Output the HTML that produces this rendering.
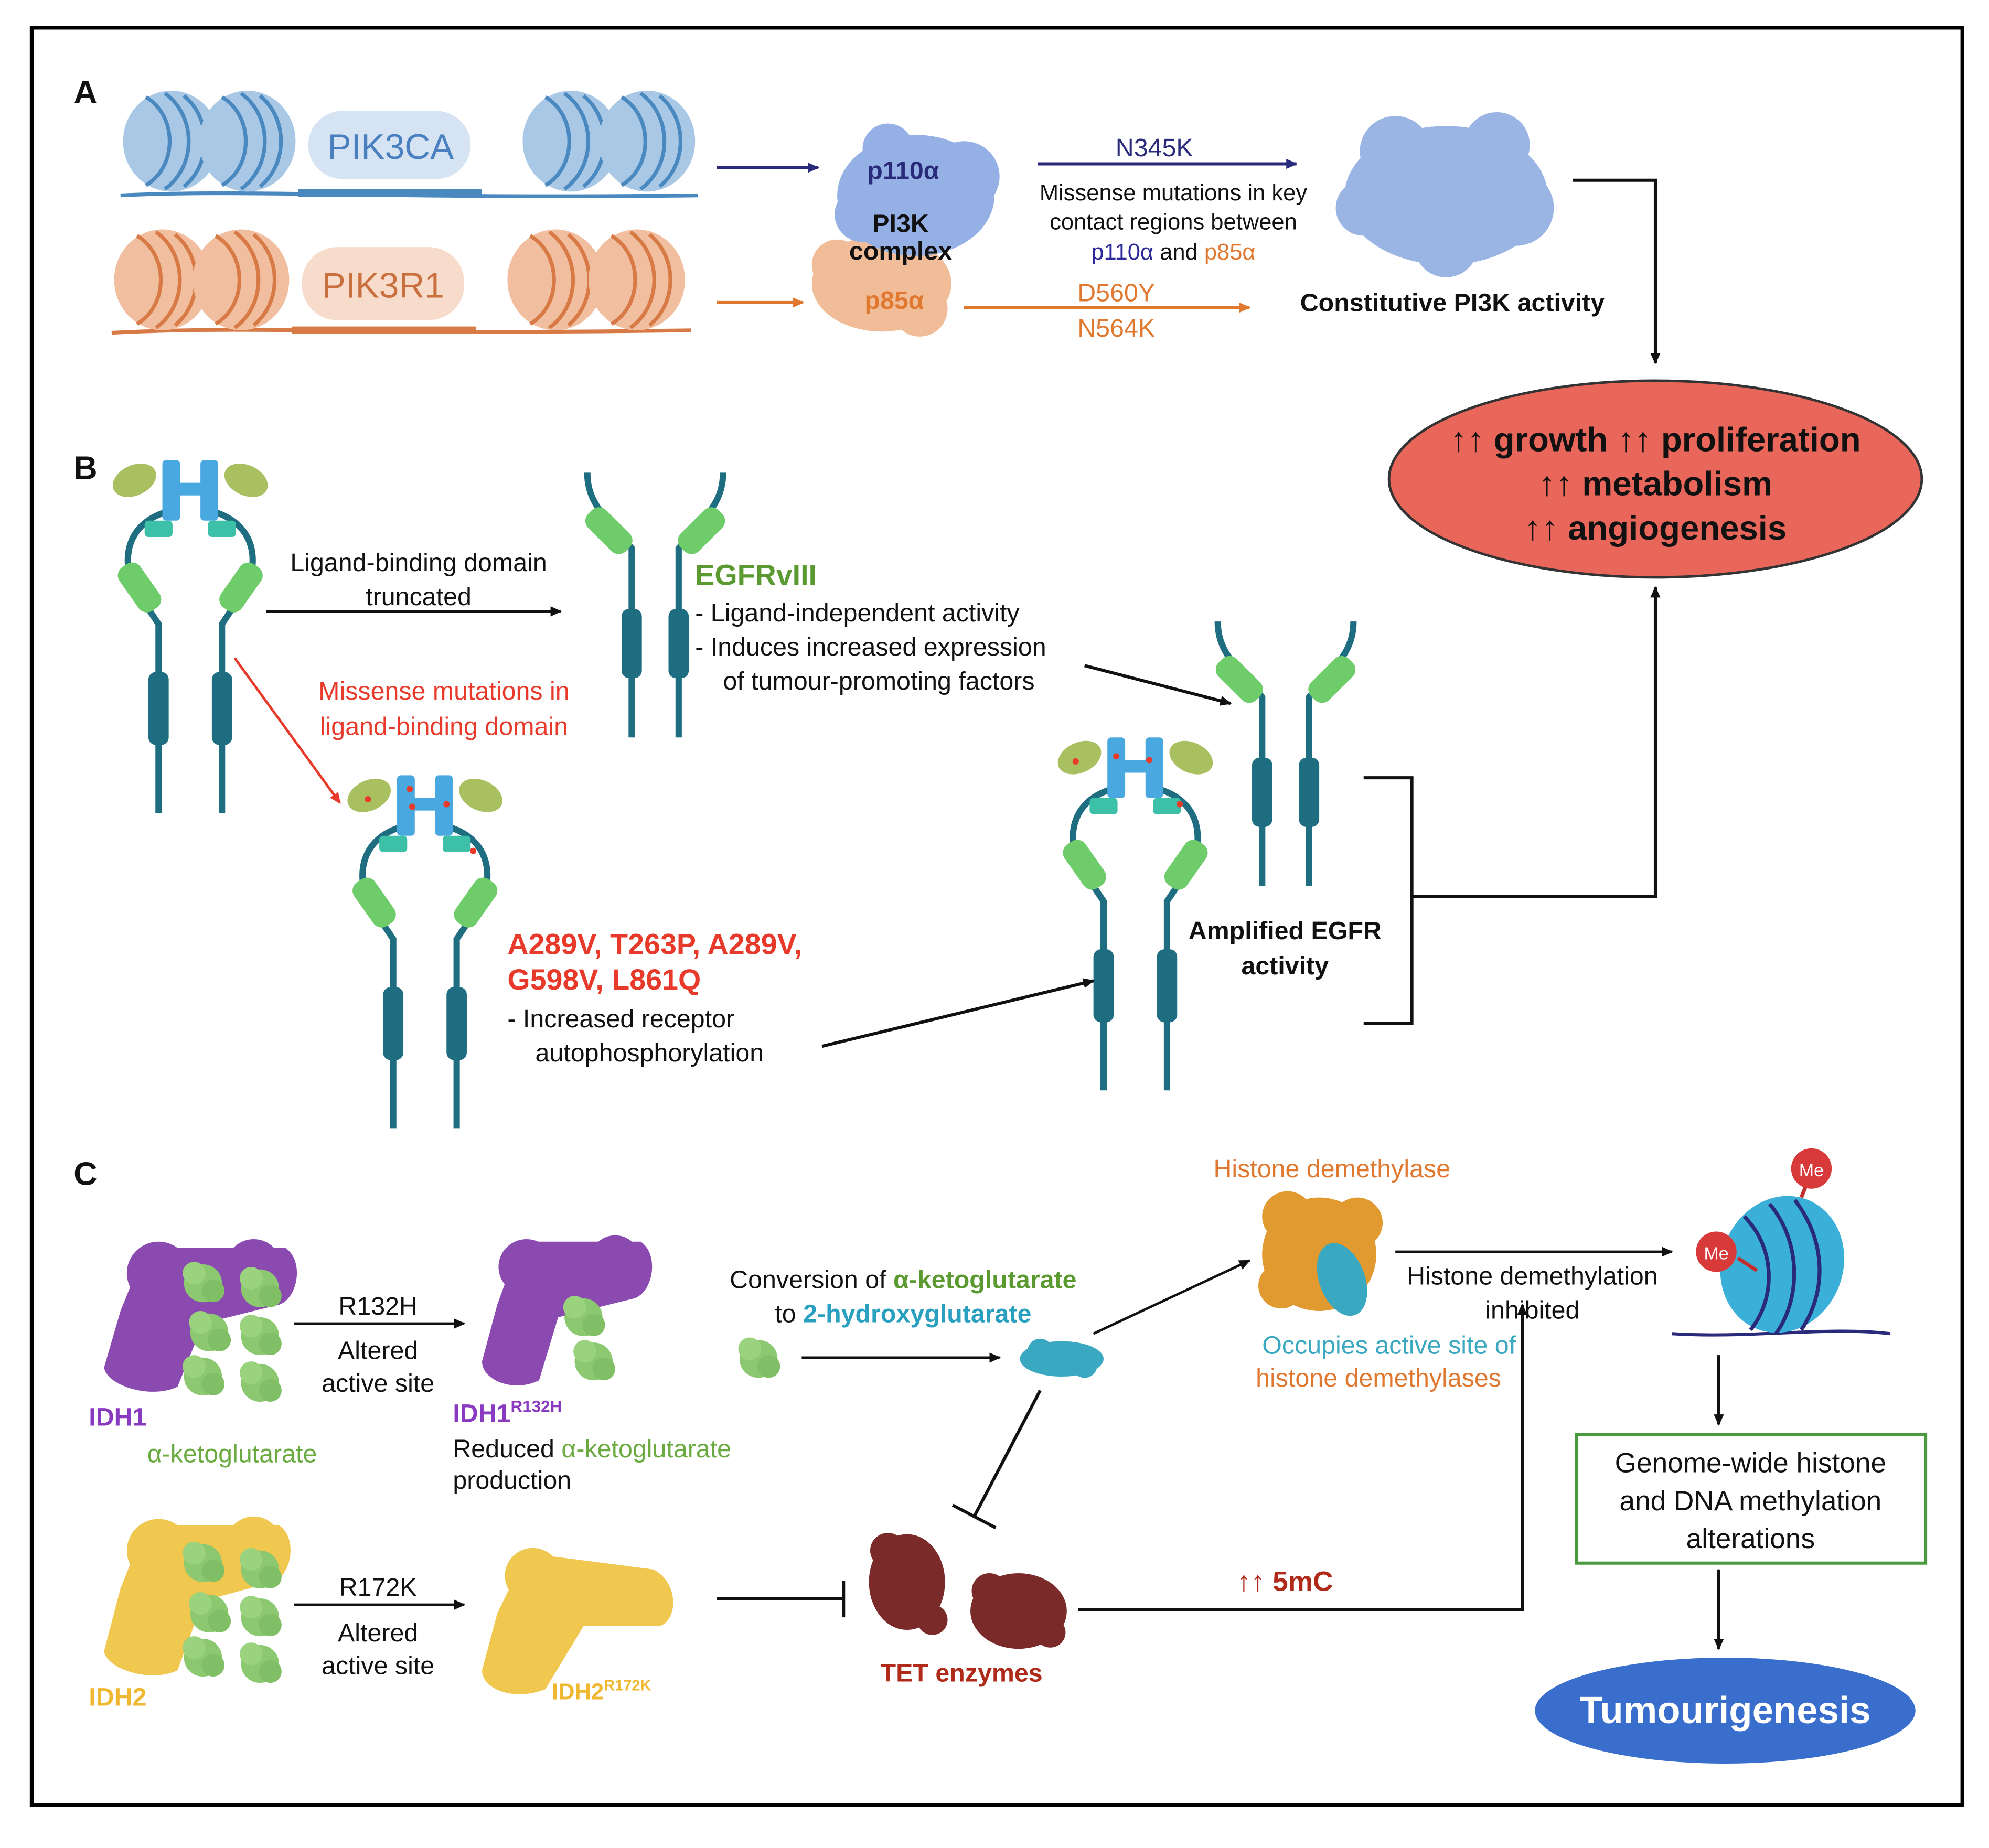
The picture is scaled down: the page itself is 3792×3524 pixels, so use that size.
<!DOCTYPE html>
<html><head><meta charset="utf-8"><style>
html,body{margin:0;padding:0;background:#fff}
svg{display:block}
text{font-family:"Liberation Sans",sans-serif;font-size:20px;fill:#111}
.b{font-weight:bold}
</style></head><body>
<svg width="3792" height="3524" viewBox="0 0 1568 1466" preserveAspectRatio="none" xmlns="http://www.w3.org/2000/svg">
<defs>
<marker id="ak" markerWidth="10" markerHeight="10" refX="8" refY="5" orient="auto" markerUnits="userSpaceOnUse"><path d="M0,1 L9,5 L0,9 z" fill="#111"/></marker>
<marker id="an" markerWidth="10" markerHeight="10" refX="8" refY="5" orient="auto" markerUnits="userSpaceOnUse"><path d="M0,1 L9,5 L0,9 z" fill="#2a2a7a"/></marker>
<marker id="ao" markerWidth="10" markerHeight="10" refX="8" refY="5" orient="auto" markerUnits="userSpaceOnUse"><path d="M0,1 L9,5 L0,9 z" fill="#e07830"/></marker>
<marker id="ar" markerWidth="10" markerHeight="10" refX="8" refY="5" orient="auto" markerUnits="userSpaceOnUse"><path d="M0,1 L9,5 L0,9 z" fill="#e83a2a"/></marker>
<g id="full">
 <path d="M45,40 C12,48 5,75 15,100 L35,130 L35,280" fill="none" stroke="#1f6d80" stroke-width="5"/>
 <path d="M75,40 C108,48 115,75 105,100 L85,130 L85,280" fill="none" stroke="#1f6d80" stroke-width="5"/>
 <ellipse cx="16" cy="16" rx="18" ry="12" transform="rotate(-25 16 16)" fill="#a8c060"/>
 <ellipse cx="104" cy="16" rx="18" ry="12" transform="rotate(25 104 16)" fill="#a8c060"/>
 <rect x="38" y="0" width="14" height="48" rx="3" fill="#4aa8e0"/><rect x="68" y="0" width="14" height="48" rx="3" fill="#4aa8e0"/><rect x="50" y="18" width="20" height="10" fill="#4aa8e0"/>
 <rect x="24" y="48" width="22" height="13" rx="3" fill="#3cc0a8"/><rect x="74" y="48" width="22" height="13" rx="3" fill="#3cc0a8"/>
 <rect x="10" y="80" width="20" height="42" rx="8" transform="rotate(-35 20 101)" fill="#6ecc6a"/>
 <rect x="90" y="80" width="20" height="42" rx="8" transform="rotate(35 100 101)" fill="#6ecc6a"/>
 <rect x="27" y="168" width="16" height="58" rx="6" fill="#1f6d80"/><rect x="77" y="168" width="16" height="58" rx="6" fill="#1f6d80"/>
</g>
<g id="trunc">
 <path d="M5,0 C5,25 20,35 40,60 L40,210" fill="none" stroke="#1f6d80" stroke-width="5"/>
 <path d="M112,0 C112,25 97,35 77,60 L77,210" fill="none" stroke="#1f6d80" stroke-width="5"/>
 <rect x="12" y="25" width="20" height="42" rx="8" transform="rotate(-45 22 46)" fill="#6ecc6a"/>
 <rect x="85" y="25" width="20" height="42" rx="8" transform="rotate(45 95 46)" fill="#6ecc6a"/>
 <rect x="32" y="108" width="16" height="55" rx="6" fill="#1f6d80"/><rect x="69" y="108" width="16" height="55" rx="6" fill="#1f6d80"/>
</g>
<g id="nucB"><ellipse cx="0" cy="0" rx="38" ry="40" fill="#a9c8e6"/><path d="M-20,-35 C5,-20 5,20 -20,35 M-5,-38 C20,-20 20,20 -5,38 M10,-36 C32,-18 32,18 10,36" fill="none" stroke="#4a88c0" stroke-width="3"/></g>
<g id="nucO"><ellipse cx="0" cy="0" rx="38" ry="40" fill="#f1bf9f"/><path d="M-20,-35 C5,-20 5,20 -20,35 M-5,-38 C20,-20 20,20 -5,38 M10,-36 C32,-18 32,18 10,36" fill="none" stroke="#d77a45" stroke-width="3"/></g>
<g id="gb"><circle cx="0" cy="0" r="15" fill="#8cc870"/><circle cx="-7" cy="-8" r="9" fill="#9ad27e"/><circle cx="8" cy="6" r="9" fill="#80bf65"/></g>
</defs>
<rect x="25" y="22" width="1522" height="1410" fill="#fff" stroke="#000" stroke-width="3"/>

<!-- Panel A -->
<text x="58" y="82" class="b" style="font-size:26px">A</text>
<path d="M95,155 C200,150 300,158 550,155" fill="none" stroke="#4a88c0" stroke-width="3"/>
<use href="#nucB" x="135" y="112"/><use href="#nucB" x="195" y="112"/><use href="#nucB" x="450" y="112"/><use href="#nucB" x="510" y="112"/>
<rect x="235" y="150" width="145" height="6" fill="#4a88c0"/>
<rect x="243" y="88" width="128" height="54" rx="27" fill="#d5e3f3"/>
<text x="308" y="126" text-anchor="middle" style="font-size:28px;fill:#4a80c0">PIK3CA</text>
<path d="M88,264 C200,258 300,266 545,262" fill="none" stroke="#d77a45" stroke-width="3"/>
<use href="#nucO" x="128" y="222"/><use href="#nucO" x="190" y="222"/><use href="#nucO" x="438" y="222"/><use href="#nucO" x="502" y="222"/>
<rect x="230" y="259" width="145" height="6" fill="#d77a45"/>
<rect x="238" y="196" width="128" height="58" rx="28" fill="#f8dccb"/>
<text x="302" y="236" text-anchor="middle" style="font-size:28px;fill:#c8703e">PIK3R1</text>
<line x1="565" y1="133" x2="645" y2="133" stroke="#2a2a7a" stroke-width="2.5" marker-end="url(#an)"/>
<line x1="565" y1="240" x2="633" y2="240" stroke="#e07830" stroke-width="2.5" marker-end="url(#ao)"/>
<g fill="#f0bd98"><ellipse cx="695" cy="225" rx="55" ry="38"/><circle cx="660" cy="210" r="20"/><circle cx="725" cy="245" r="22"/></g>
<g fill="#94b0e4"><ellipse cx="722" cy="155" rx="62" ry="48"/><circle cx="700" cy="118" r="20"/><circle cx="760" cy="140" r="28"/><circle cx="680" cy="170" r="22"/></g>
<text x="712" y="142" text-anchor="middle" class="b" style="fill:#2a2a7a">p110α</text>
<text x="710" y="184" text-anchor="middle" class="b">PI3K</text>
<text x="710" y="206" text-anchor="middle" class="b">complex</text>
<text x="705" y="245" text-anchor="middle" class="b" style="fill:#e07830">p85α</text>
<text x="910" y="124" text-anchor="middle" style="fill:#2a2a7a">N345K</text>
<line x1="818" y1="130" x2="1022" y2="130" stroke="#2a2a7a" stroke-width="2.5" marker-end="url(#an)"/>
<text x="925" y="159" text-anchor="middle" style="font-size:18px">Missense mutations in key</text>
<text x="925" y="182" text-anchor="middle" style="font-size:18px">contact regions between</text>
<text x="925" y="206" text-anchor="middle" style="font-size:18px"><tspan style="fill:#2a2a9a">p110α</tspan> and <tspan style="fill:#e07830">p85α</tspan></text>
<text x="880" y="239" text-anchor="middle" style="fill:#e07830">D560Y</text>
<text x="880" y="267" text-anchor="middle" style="fill:#e07830">N564K</text>
<line x1="760" y1="244" x2="985" y2="244" stroke="#e07830" stroke-width="2.5" marker-end="url(#ao)"/>
<g fill="#9ab4e4"><ellipse cx="1140" cy="155" rx="80" ry="55"/><circle cx="1100" cy="120" r="28"/><circle cx="1180" cy="115" r="26"/><circle cx="1195" cy="165" r="30"/><circle cx="1140" cy="195" r="25"/><circle cx="1075" cy="165" r="22"/></g>
<text x="1145" y="247" text-anchor="middle" class="b">Constitutive PI3K activity</text>
<polyline points="1240,143 1305,143 1305,288" fill="none" stroke="#111" stroke-width="2.5" marker-end="url(#ak)"/>
<ellipse cx="1305" cy="380" rx="210" ry="78" fill="#e8665a" stroke="#333" stroke-width="2"/>
<text x="1305" y="358" text-anchor="middle" class="b" style="font-size:27px">↑↑ growth  ↑↑ proliferation</text>
<text x="1305" y="393" text-anchor="middle" class="b" style="font-size:27px">↑↑ metabolism</text>
<text x="1305" y="428" text-anchor="middle" class="b" style="font-size:27px">↑↑ angiogenesis</text>

<!-- Panel B -->
<text x="58" y="380" class="b" style="font-size:26px">B</text>
<use href="#full" x="90" y="365"/>
<use href="#trunc" x="458" y="375"/>
<use href="#full" x="275" y="615"/>
<use href="#full" x="835" y="585"/>
<use href="#trunc" x="955" y="493"/>
<g fill="#e83a2a"><circle cx="290" cy="634" r="2.5"/><circle cx="323" cy="626" r="2.5"/><circle cx="325" cy="640" r="2.5"/><circle cx="352" cy="638" r="2.5"/><circle cx="373" cy="675" r="2.5"/><circle cx="848" cy="604" r="2.5"/><circle cx="880" cy="600" r="2.5"/><circle cx="906" cy="603" r="2.5"/><circle cx="930" cy="638" r="2.5"/></g>
<text x="330" y="453" text-anchor="middle">Ligand-binding domain</text>
<text x="330" y="480" text-anchor="middle">truncated</text>
<line x1="210" y1="485" x2="442" y2="485" stroke="#111" stroke-width="2" marker-end="url(#ak)"/>
<text x="548" y="464" class="b" style="fill:#5a9a30;font-size:23px">EGFRvIII</text>
<text x="548" y="493">-  Ligand-independent activity</text>
<text x="548" y="520">-  Induces increased expression</text>
<text x="570" y="547">of tumour-promoting factors</text>
<line x1="855" y1="528" x2="970" y2="558" stroke="#111" stroke-width="2.5" marker-end="url(#ak)"/>
<line x1="185" y1="522" x2="268" y2="637" stroke="#e83a2a" stroke-width="2" marker-end="url(#ar)"/>
<text x="350" y="555" text-anchor="middle" style="fill:#e83a2a">Missense mutations in</text>
<text x="350" y="583" text-anchor="middle" style="fill:#e83a2a">ligand-binding domain</text>
<text x="400" y="757" class="b" style="fill:#e83a2a;font-size:23px">A289V, T263P, A289V,</text>
<text x="400" y="785" class="b" style="fill:#e83a2a;font-size:23px">G598V, L861Q</text>
<text x="400" y="815">-  Increased receptor</text>
<text x="422" y="842">autophosphorylation</text>
<line x1="648" y1="830" x2="862" y2="778" stroke="#111" stroke-width="2.5" marker-end="url(#ak)"/>
<text x="1013" y="745" text-anchor="middle" class="b">Amplified EGFR</text>
<text x="1013" y="773" text-anchor="middle" class="b">activity</text>
<polyline points="1075,617 1113,617 1113,812 1075,812" fill="none" stroke="#111" stroke-width="2.5"/>
<polyline points="1113,711 1305,711 1305,466" fill="none" stroke="#111" stroke-width="2.5" marker-end="url(#ak)"/>

<!-- Panel C -->
<text x="58" y="940" class="b" style="font-size:26px">C</text>
<g fill="#8a4ab0"><path d="M115,990 L225,990 C240,1000 235,1030 220,1035 L160,1050 L140,1100 C120,1110 85,1100 82,1085 L95,1040 Z"/><circle cx="125" cy="1010" r="25"/><circle cx="200" cy="1005" r="22"/></g>
<use href="#gb" x="160" y="1018"/><use href="#gb" x="205" y="1022"/><use href="#gb" x="165" y="1057"/><use href="#gb" x="205" y="1060"/><use href="#gb" x="160" y="1092"/><use href="#gb" x="205" y="1097"/>
<text x="70" y="1131" class="b" style="fill:#8a3ac0">IDH1</text>
<text x="183" y="1160" text-anchor="middle" style="fill:#6aaa40">α-ketoglutarate</text>
<line x1="232" y1="1050" x2="366" y2="1050" stroke="#111" stroke-width="2" marker-end="url(#ak)"/>
<text x="298" y="1043" text-anchor="middle">R132H</text>
<text x="298" y="1078" text-anchor="middle">Altered</text>
<text x="298" y="1104" text-anchor="middle">active site</text>
<g fill="#8a4ab0"><path d="M410,985 L505,985 C520,995 515,1025 500,1030 L440,1045 L425,1095 C405,1105 380,1095 380,1080 L392,1035 Z"/><circle cx="415" cy="1005" r="22"/><circle cx="485" cy="1000" r="20"/></g>
<use href="#gb" x="460" y="1045"/><use href="#gb" x="468" y="1080"/>
<text x="357" y="1128" class="b" style="fill:#8a3ac0">IDH1<tspan style="font-size:13px" dy="-8">R132H</tspan></text>
<text x="357" y="1156">Reduced <tspan style="fill:#6aaa40">α-ketoglutarate</tspan></text>
<text x="357" y="1181">production</text>
<text x="712" y="1022" text-anchor="middle">Conversion of <tspan class="b" style="fill:#5a9a30">α-ketoglutarate</tspan></text>
<text x="712" y="1049" text-anchor="middle">to <tspan class="b" style="fill:#2aa0c0">2-hydroxyglutarate</tspan></text>
<use href="#gb" x="598" y="1078"/>
<line x1="632" y1="1077" x2="788" y2="1077" stroke="#111" stroke-width="2" marker-end="url(#ak)"/>
<g fill="#3aa8c0"><ellipse cx="837" cy="1078" rx="33" ry="14"/><circle cx="820" cy="1072" r="10"/><circle cx="855" cy="1083" r="10"/></g>
<line x1="862" y1="1058" x2="985" y2="1000" stroke="#111" stroke-width="2" marker-end="url(#ak)"/>
<text x="1050" y="934" text-anchor="middle" style="fill:#e07830">Histone demethylase</text>
<g fill="#e09a30"><ellipse cx="1040" cy="995" rx="45" ry="45"/><circle cx="1015" cy="965" r="20"/><circle cx="1070" cy="970" r="20"/><circle cx="1010" cy="1020" r="18"/></g>
<g fill="#3aa8c0"><ellipse cx="1058" cy="1015" rx="18" ry="30" transform="rotate(-20 1058 1015)"/></g>
<text x="995" y="1074" style="fill:#3aa8c0">Occupies active site of</text>
<text x="990" y="1100" style="fill:#e07830">histone demethylases</text>
<line x1="1100" y1="993" x2="1318" y2="993" stroke="#111" stroke-width="2" marker-end="url(#ak)"/>
<text x="1208" y="1019" text-anchor="middle">Histone demethylation</text>
<text x="1208" y="1046" text-anchor="middle">inhibited</text>
<path d="M1318,1058 C1380,1062 1440,1052 1490,1058" fill="none" stroke="#2a2a7a" stroke-width="2.5"/>
<ellipse cx="1405" cy="1003" rx="48" ry="55" transform="rotate(20 1405 1003)" fill="#3ab0d8"/>
<path d="M1375,965 C1400,990 1400,1030 1380,1055 M1395,955 C1420,985 1420,1030 1400,1058 M1415,952 C1440,985 1440,1025 1420,1055" fill="none" stroke="#2a2a7a" stroke-width="3"/>
<line x1="1420" y1="950" x2="1428" y2="930" stroke="#c03030" stroke-width="3"/><line x1="1370" y1="998" x2="1385" y2="1008" stroke="#c03030" stroke-width="3"/>
<circle cx="1428" cy="927" r="16" fill="#d83a3a"/><text x="1428" y="933" text-anchor="middle" style="fill:#fff;font-size:14px">Me</text>
<circle cx="1353" cy="993" r="16" fill="#d83a3a"/><text x="1353" y="999" text-anchor="middle" style="fill:#fff;font-size:14px">Me</text>
<line x1="1355" y1="1075" x2="1355" y2="1130" stroke="#111" stroke-width="2.5" marker-end="url(#ak)"/>
<rect x="1243" y="1138" width="275" height="102" fill="#fff" stroke="#4a9a40" stroke-width="2.5"/>
<text x="1380" y="1168" text-anchor="middle" style="font-size:22px">Genome-wide histone</text>
<text x="1380" y="1198" text-anchor="middle" style="font-size:22px">and DNA methylation</text>
<text x="1380" y="1228" text-anchor="middle" style="font-size:22px">alterations</text>
<line x1="1355" y1="1245" x2="1355" y2="1308" stroke="#111" stroke-width="2.5" marker-end="url(#ak)"/>
<ellipse cx="1360" cy="1357" rx="150" ry="42" fill="#3a6ecc"/>
<text x="1360" y="1367" text-anchor="middle" class="b" style="fill:#fff;font-size:30px">Tumourigenesis</text>
<line x1="820" y1="1103" x2="768" y2="1203" stroke="#111" stroke-width="2.5"/>
<line x1="751" y1="1194" x2="785" y2="1212" stroke="#111" stroke-width="2.5"/>
<g fill="#f0c850"><path d="M115,1210 L220,1210 C235,1220 230,1250 215,1255 L160,1270 L140,1325 C120,1335 85,1325 82,1310 L95,1260 Z"/><circle cx="125" cy="1230" r="25"/><circle cx="200" cy="1225" r="22"/></g>
<use href="#gb" x="160" y="1240"/><use href="#gb" x="205" y="1245"/><use href="#gb" x="165" y="1280"/><use href="#gb" x="205" y="1283"/><use href="#gb" x="160" y="1315"/><use href="#gb" x="205" y="1320"/>
<text x="70" y="1353" class="b" style="fill:#f0b830">IDH2</text>
<line x1="232" y1="1273" x2="366" y2="1273" stroke="#111" stroke-width="2" marker-end="url(#ak)"/>
<text x="298" y="1266" text-anchor="middle">R172K</text>
<text x="298" y="1302" text-anchor="middle">Altered</text>
<text x="298" y="1328" text-anchor="middle">active site</text>
<g fill="#f0c850"><path d="M415,1232 L515,1245 C535,1255 535,1285 520,1290 L460,1290 L430,1340 C405,1350 380,1340 380,1325 L392,1280 Z"/><circle cx="420" cy="1250" r="22"/></g>
<text x="435" y="1348" class="b" style="fill:#f0b830;font-size:18px">IDH2<tspan style="font-size:12px" dy="-7">R172K</tspan></text>
<line x1="565" y1="1268" x2="665" y2="1268" stroke="#111" stroke-width="2.5"/>
<line x1="665" y1="1254" x2="665" y2="1283" stroke="#111" stroke-width="2.5"/>
<g fill="#7a2a28"><ellipse cx="715" cy="1255" rx="30" ry="38"/><circle cx="700" cy="1230" r="14"/><circle cx="735" cy="1285" r="12"/><ellipse cx="803" cy="1278" rx="38" ry="30"/><circle cx="780" cy="1262" r="14"/><circle cx="828" cy="1295" r="12"/></g>
<text x="758" y="1334" text-anchor="middle" class="b" style="fill:#b02a1a">TET enzymes</text>
<polyline points="850,1277 1200,1277 1200,1035" fill="none" stroke="#111" stroke-width="2.5" marker-end="url(#ak)"/>
<text x="1013" y="1262" text-anchor="middle" class="b" style="fill:#b02a1a;font-size:22px">↑↑ 5mC</text>
</svg>
</body></html>
